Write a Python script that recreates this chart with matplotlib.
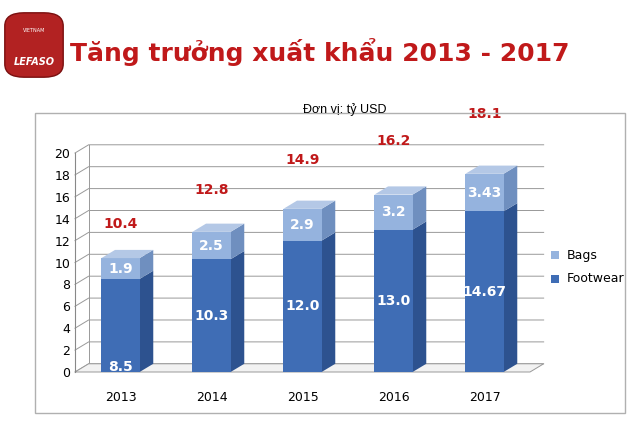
import matplotlib
matplotlib.use("Agg")
import matplotlib.pyplot as plt
from matplotlib.patches import Rectangle, Polygon, FancyBboxPatch

years = ["2013", "2014", "2015", "2016", "2017"]
footwear = [8.5, 10.3, 12.0, 13.0, 14.67]
bags = [1.9, 2.5, 2.9, 3.2, 3.43]
totals = [10.4, 12.8, 14.9, 16.2, 18.1]
foot_lbl = ["8.5", "10.3", "12.0", "13.0", "14.67"]
bag_lbl = ["1.9", "2.5", "2.9", "3.2", "3.43"]
tot_lbl = ["10.4", "12.8", "14.9", "16.2", "18.1"]

fig = plt.figure(figsize=(6.4, 4.38), dpi=100)
fig.patch.set_facecolor("white")

fig.patches.append(Rectangle((35/640, 1-413/438), 590/640, 300/438, transform=fig.transFigure,
                             fill=False, edgecolor="#b0b0b0", lw=1))
fig.patches.append(FancyBboxPatch((8/640, 1-75/438), 52/640, 60/438, transform=fig.transFigure,
                                  boxstyle="round,pad=0.005,rounding_size=0.03",
                                  facecolor="#b22222", edgecolor="#7a0f0f"))
fig.text(34/640, 1-62/438, "LEFASO", color="white", fontsize=7, fontweight="bold",
         fontstyle="italic", ha="center", va="center")
fig.text(34/640, 1-30/438, "VIETNAM", color="white", fontsize=3.5, ha="center", va="center")
fig.text(320/640, 1-52/438, "Tăng trưởng xuất khẩu 2013 - 2017", color="#c0191a",
         fontsize=18, fontweight="bold", ha="center", va="center")
fig.text(345/640, 1-110/438, "Đơn vị: tỷ USD", fontsize=9, ha="center", va="center",
         family="Liberation Sans")

ax = fig.add_axes([75/640, 1-372/438, 455/640, 219/438])
ax.set_xlim(-0.5, 4.5)
ax.set_ylim(0, 20)
for s in ["top", "right", "bottom"]:
    ax.spines[s].set_visible(False)
ax.spines["left"].set_color("#888888")
ax.set_yticks(range(0, 21, 2))
ax.tick_params(axis="y", length=0, labelsize=9)
ax.set_xticks(range(5))
ax.set_xticklabels(years, fontsize=9)
ax.tick_params(axis="x", length=0, pad=14)

dx, dy = 0.15, 0.75
w = 0.42
for g in range(0, 21, 2):
    ax.plot([-0.5, -0.5+dx, 4.5+dx], [g, g+dy, g+dy], color="#999999", lw=0.7, clip_on=False, zorder=1)
ax.plot([-0.5+dx, -0.5+dx], [dy, 20+dy], color="#999999", lw=0.7, clip_on=False, zorder=1)
ax.add_patch(Polygon([(-0.5, 0), (4.5, 0), (4.5+dx, dy), (-0.5+dx, dy)], closed=True,
                     facecolor="#f2f2f2", edgecolor="#999999", lw=0.7, clip_on=False, zorder=1))

fc, fs, ft = "#3f6db5", "#2d528f", "#5d86c8"
bc, bs, bt = "#95b3de", "#6f8fbf", "#b4c8e6"
for i in range(5):
    x0 = i - w/2
    f, b = footwear[i], bags[i]
    ax.bar(i, f, width=w, color=fc, zorder=3)
    ax.bar(i, b, bottom=f, width=w, color=bc, zorder=3)
    ax.add_patch(Polygon([(x0+w, 0), (x0+w+dx, dy), (x0+w+dx, f+dy), (x0+w, f)], facecolor=fs, zorder=2, clip_on=False))
    ax.add_patch(Polygon([(x0+w, f), (x0+w+dx, f+dy), (x0+w+dx, f+b+dy), (x0+w, f+b)], facecolor=bs, zorder=2, clip_on=False))
    t = f + b
    ax.add_patch(Polygon([(x0, t), (x0+w, t), (x0+w+dx, t+dy), (x0+dx, t+dy)], facecolor=bt, zorder=3, clip_on=False))
    ax.text(i, f/2 if i else 0.5, foot_lbl[i], color="white", fontweight="bold", fontsize=10, ha="center", va="center", zorder=5)
    ax.text(i, f + b/2, bag_lbl[i], color="white", fontweight="bold", fontsize=10, ha="center", va="center", zorder=5)
    ax.text(i, totals[i]*1.3, tot_lbl[i], color="#c0191a", fontweight="bold", fontsize=10, ha="center", va="center", clip_on=False)

fig.patches.append(Rectangle((551/640, 1-259/438), 8/640, 8/438, transform=fig.transFigure, facecolor=bc))
fig.text(567/640, 1-255/438, "Bags", fontsize=9, va="center")
fig.patches.append(Rectangle((551/640, 1-283/438), 8/640, 8/438, transform=fig.transFigure, facecolor=fc))
fig.text(567/640, 1-279/438, "Footwear", fontsize=9, va="center")

fig.savefig("out.png", dpi=100)
